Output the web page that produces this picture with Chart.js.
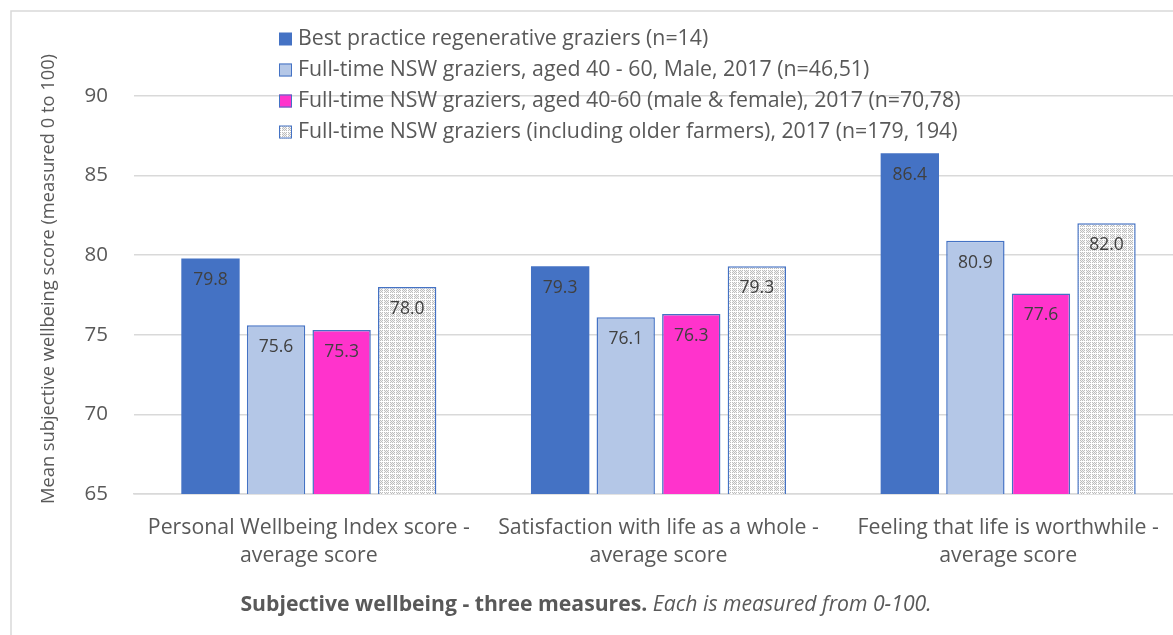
<!DOCTYPE html>
<html>
<head>
<meta charset="utf-8">
<script src="https://cdn.jsdelivr.net/npm/chart.js@4/dist/chart.umd.min.js"></script>
<style>
  html, body { margin: 0; padding: 0; background: #fff; overflow: hidden; }
  #wrap { position: relative; width: 1190px; height: 635px; }
</style>
</head>
<body>
<div id="wrap"><canvas id="myChart" width="1190" height="635"></canvas></div>
<script>
var categories = [
    ["Personal Wellbeing Index score -", "average score"],
    ["Satisfaction with life as a whole -", "average score"],
    ["Feeling that life is worthwhile -", "average score"]
];
var seriesNames = [
    "Best practice regenerative graziers (n=14)",
    "Full-time NSW graziers, aged 40 - 60, Male, 2017 (n=46,51)",
    "Full-time NSW graziers, aged 40-60 (male & female), 2017 (n=70,78)",
    "Full-time NSW graziers (including older farmers), 2017 (n=179, 194)"
];
var bestPractice = [79.8, 79.3, 86.4];
var maleAged4060 = [75.6, 76.1, 80.9];
var allAged4060 = [75.3, 76.3, 77.6];
var allGraziers = [78.0, 79.3, 82.0];
var yTicks = [65, 70, 75, 80, 85, 90];
var yTitle = "Mean subjective wellbeing score (measured 0 to 100)";
var titleBold = "Subjective wellbeing - three measures.";
var titleItalic = " Each is measured from 0-100.";

var fontName = "'Open Sans', sans-serif";
var grey = "#595959";

// dotted grey fill like the excel pattern
function makePattern() {
    var c = document.createElement('canvas');
    c.width = 6; c.height = 6;
    var g = c.getContext('2d');
    g.fillStyle = '#f4f4f4';
    g.fillRect(0, 0, 6, 6);
    g.fillStyle = '#bdbdbd';
    for (var i = 0; i < 6; i++) {
        for (var j = 0; j < 6; j++) {
            if ((i + j) % 2 == 0 && i != 5 && j != 5) g.fillRect(i, j, 1, 1);
        }
    }
    g.fillStyle = '#ffffff';
    g.fillRect(5, 0, 1, 6);
    g.fillRect(0, 5, 6, 1);
    return g.createPattern(c, 'repeat');
}
var ctx = document.getElementById("myChart");
var pattern = makePattern();

var fills = ['#4472C4', '#B4C7E7', '#FF33CC', pattern];

var frameAndText = {
    id: 'frameAndText',
    beforeDraw: function (chart) {
        var c = chart.ctx;
        c.save();
        c.strokeStyle = '#d9d9d9';
        c.lineWidth = 1.5;
        c.beginPath();
        c.moveTo(11, 640);
        c.lineTo(11, 11);
        c.lineTo(1200, 11);
        c.stroke();
        c.restore();
    },
    afterDraw: function (chart) {
        var c = chart.ctx;
        c.save();
        // value labels inside bar tops
        c.font = "17.5px " + fontName;
        c.fillStyle = '#404040';
        c.textAlign = 'center';
        c.textBaseline = 'middle';
        chart.data.datasets.forEach(function (ds, i) {
            chart.getDatasetMeta(i).data.forEach(function (bar, j) {
                c.fillText(ds.data[j].toFixed(1), bar.x, bar.y + 22);
            });
        });
        // legend
        c.font = "21.3px " + fontName;
        c.textAlign = 'left';
        chart.data.datasets.forEach(function (ds, i) {
            var y = 39 + i * 31;
            c.fillStyle = ds.backgroundColor;
            c.fillRect(279, y - 6.5, 13, 13);
            if (i > 0) {
                c.strokeStyle = '#4472C4';
                c.lineWidth = 1;
                c.strokeRect(279.5, y - 6, 12, 12);
            }
            c.fillStyle = grey;
            c.fillText(ds.label, 298, y);
        });
        // y axis title
        c.save();
        c.translate(49, 279);
        c.rotate(-Math.PI / 2);
        c.font = "18.3px " + fontName;
        c.textAlign = 'center';
        c.fillStyle = grey;
        c.fillText(yTitle, 0, 0);
        c.restore();
        // bottom caption
        c.font = "bold 21.2px " + fontName;
        var w1 = c.measureText(titleBold).width;
        c.font = "italic 21.2px " + fontName;
        var w2 = c.measureText(titleItalic).width;
        var x0 = 586 - (w1 + w2) / 2;
        c.textAlign = 'left';
        c.fillStyle = grey;
        c.font = "bold 21.2px " + fontName;
        c.fillText(titleBold, x0, 605);
        c.font = "italic 21.2px " + fontName;
        c.fillText(titleItalic, x0 + w1, 605);
        c.restore();
    }
};

var myChart = new Chart(ctx, {
    type: 'bar',
    data: {
        labels: categories,
        datasets: [
            { label: seriesNames[0], data: bestPractice, backgroundColor: fills[0], borderColor: '#4472C4', borderWidth: 0 },
            { label: seriesNames[1], data: maleAged4060, backgroundColor: fills[1], borderColor: '#4472C4', borderWidth: 1.5 },
            { label: seriesNames[2], data: allAged4060, backgroundColor: fills[2], borderColor: '#4472C4', borderWidth: 1.5 },
            { label: seriesNames[3], data: allGraziers, backgroundColor: fills[3], borderColor: '#4472C4', borderWidth: 1.5 }
        ]
    },
    options: {
        responsive: false,
        animation: false,
        layout: { padding: { left: 0, right: 7, top: 96, bottom: 0 } },
        datasets: { bar: { categoryPercentage: 0.75, barPercentage: 0.89 } },
        plugins: {
            legend: { display: false },
            tooltip: { enabled: false }
        },
        scales: {
            x: {
                grid: { display: false, drawTicks: false },
                border: { display: true, color: '#d9d9d9', width: 1.5 },
                ticks: { color: grey, font: { family: fontName, size: 21.3, lineHeight: 1.32 }, padding: 20, maxRotation: 0, autoSkip: false },
                afterFit: function (s) { s.height = 141; }
            },
            y: {
                min: 65,
                max: 90,
                afterBuildTicks: function (s) { s.ticks = yTicks.map(function (v) { return { value: v }; }); },
                grid: { color: '#d9d9d9', lineWidth: 1.5, drawTicks: false },
                border: { display: false },
                ticks: { color: grey, font: { family: fontName, size: 20.5 }, padding: 26 },
                afterFit: function (s) { s.width = 134; }
            }
        }
    },
    plugins: [frameAndText]
});
</script>
</body>
</html>
